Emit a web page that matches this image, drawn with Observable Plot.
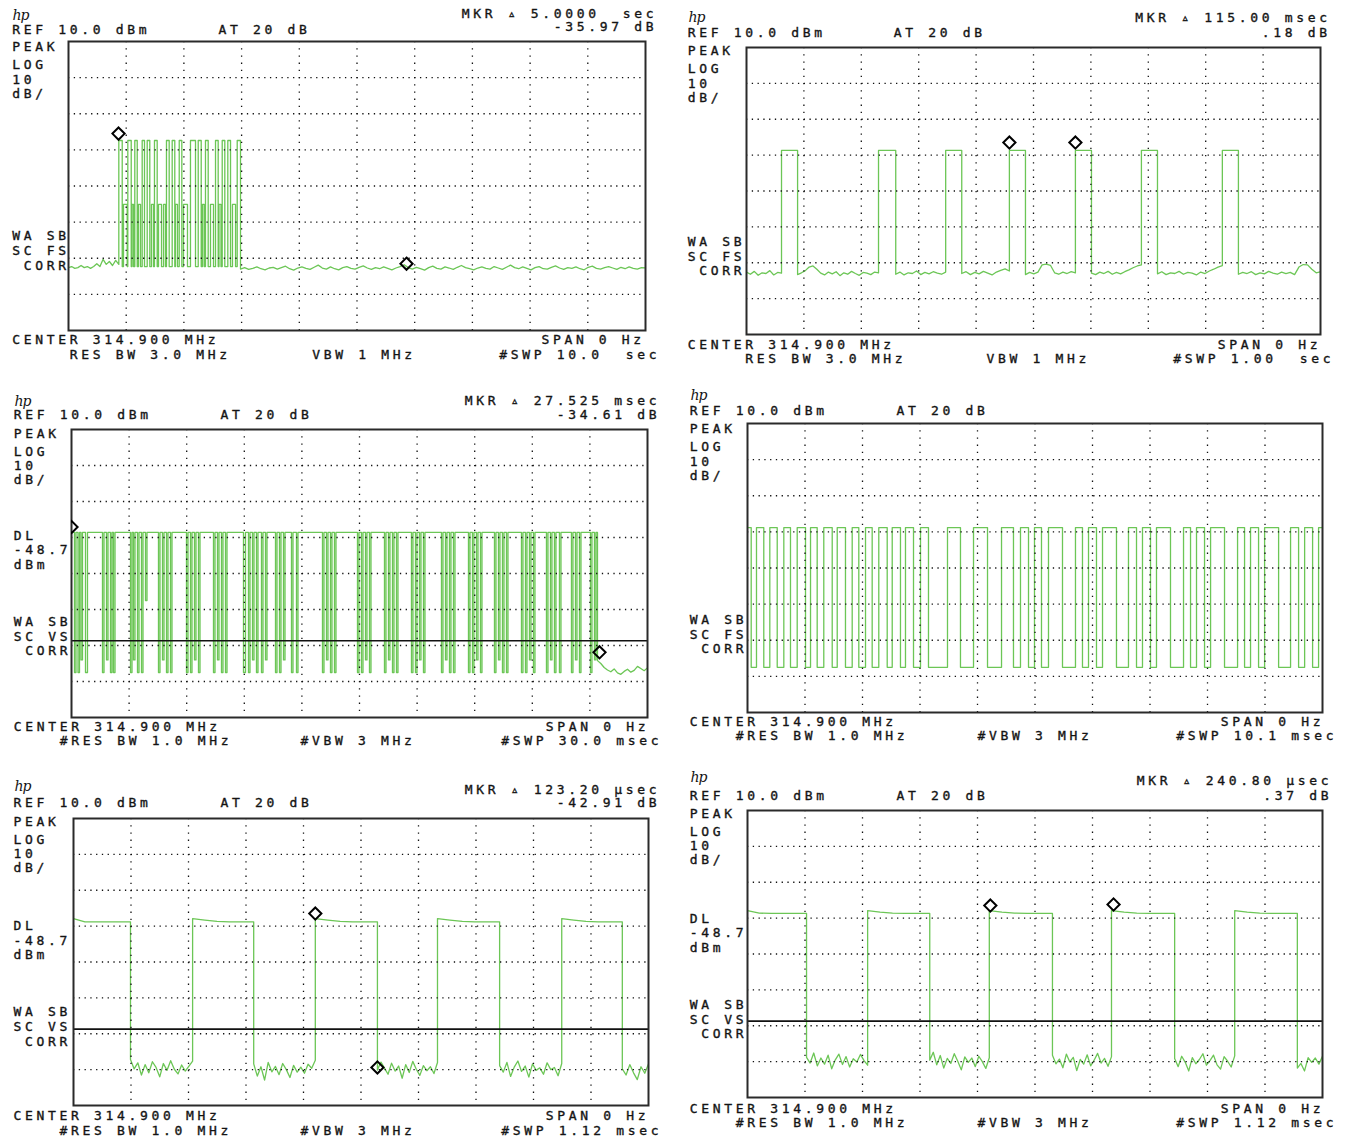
<!DOCTYPE html>
<html><head><meta charset="utf-8">
<script src="https://cdn.jsdelivr.net/npm/d3@7"></script>
<script src="https://cdn.jsdelivr.net/npm/@observablehq/plot@0.6"></script>
<style>
html,body{margin:0;padding:0;background:#fff;}
#root{position:relative;width:1346px;height:1139px;overflow:hidden;background:#fff;}
#root svg{position:absolute;overflow:visible;background:transparent;}
</style></head><body><div id="root"></div>
<script>
// ================= DATA =================
// Panel 1 : 10 s sweep
const p1High = -17.4, p1Mid = -35.1, p1Low = -52.3;
const p1Pre = [-52.6,-52.3,-52.8,-52.6,-52.0,-52.6,-52.3,-52.8,-52.3,-51.5,-52.3,-50.3,-51.7,-50.9,-52.0,-50.6,-51.7];
const p1Spikes = [[0.872,0.931],[1.028,1.087],[1.149,1.191],[1.277,1.317],[1.364,1.409],[1.490,1.537],[1.698,1.745],[1.797,1.842],[1.919,1.964],[2.114,2.201],[2.248,2.300],[2.374,2.421],[2.548,2.594],[2.664,2.709],[2.761,2.808],[2.924,2.981]];
const p1Steps = [[0.953,1.017],[1.101,1.127],[1.213,1.248],[1.438,1.473],[1.560,1.612],[1.647,1.681],[1.854,1.889],[1.993,2.062],[2.322,2.352],[2.461,2.513],[2.608,2.643],[2.842,2.895]];
const p1Post = [-53.0,-52.6,-53.1,-52.8,-52.4,-52.9,-53.2,-52.7,-52.5,-53.0,
 -52.6,-52.2,-52.9,-53.3,-52.7,-52.4,-52.8,-53.1,-52.5,-51.9,
 -52.7,-53.0,-52.4,-52.9,-53.2,-52.6,-52.3,-52.8,-53.0,-52.5,
 -52.1,-52.7,-53.1,-52.6,-52.9,-52.4,-52.8,-53.2,-52.7,-52.3,
 -51.8,-52.6,-53.0,-52.5,-52.9,-53.3,-52.6,-52.2,-52.8,-53.0,
 -52.4,-52.7,-53.1,-52.5,-52.0,-52.6,-52.9,-53.2,-52.7,-52.4,
 -52.8,-53.0,-52.3,-52.7,-53.1,-52.5,-51.9,-52.6,-52.9,-52.4,
 -52.8,-53.2,-52.6,-52.3,-52.9,-53.0,-52.5,-52.1,-52.7,-53.1,
 -52.6,-52.8,-52.4,-52.9,-53.2,-52.5,-52.2,-52.8,-53.0,-52.6,
 -52.3,-52.7,-53.1,-52.5,-52.9,-52.4,-52.8,-53.0,-52.6,-52.7];
const p1Markers = [{t:0.867,v:-15.5},{t:5.858,v:-51.5}];

// Panel 2 : 1 s sweep
const p2High = -18.7;
const p2Pulses = [[0.061,0.089],[0.230,0.260],[0.347,0.375],[0.458,0.486],[0.573,0.601],[0.688,0.716],[0.829,0.857]];
const p2Noise = [
 [-52.6,-53.2,-52.4,-53.5,-52.8,-53.0,-52.2,-53.4,-52.7,-52.9],
 [-53.3,-52.8,-52.2,-51.2,-50.9,-51.8,-52.9,-53.4,-52.6,-53.1,-52.5,-53.6,-52.8,-53.2,-52.4,-53.0,-53.5,-52.7,-52.9,-53.3,-52.6,-52.8],
 [-53.2,-52.6,-53.4,-52.8,-53.0,-52.3,-53.3,-52.7,-53.1,-52.5,-52.9,-53.2,-52.6],
 [-53.0,-52.5,-53.3,-52.7,-53.1,-52.4,-52.9,-53.4,-52.6,-52.1,-51.7,-52.3],
 [-53.3,-52.7,-53.1,-52.6,-50.6,-50.4,-50.7,-52.8,-53.2,-52.6,-53.0,-52.5,-52.8],
 [-52.9,-53.3,-52.6,-53.0,-52.4,-53.2,-52.7,-53.1,-52.5,-52.0,-51.4,-50.9,-50.6],
 [-53.1,-52.5,-53.3,-52.8,-53.0,-52.4,-53.2,-52.7,-52.9,-53.4,-52.6,-53.0,-52.3,-51.8,-51.2,-50.8],
 [-53.2,-52.7,-53.0,-52.5,-53.3,-52.8,-53.1,-52.4,-52.9,-53.2,-52.6,-53.0,-52.7,-53.3,-51.2,-50.5,-50.6,-51.8,-52.8,-52.5]];
const p2Markers = [{t:0.458,v:-16.5},{t:0.573,v:-16.5}];

// Panel 3 : 30 ms sweep
const p3High = -18.6, p3Low = -57.5, p3Part = -54.0, p3Step = -37.5;
const p3Dips = [
 [0.156,0.234,p3Low],[0.339,0.417,p3Low],[0.495,0.573,p3Part],[0.729,0.833,p3Low],
 [1.614,1.693,p3Low],[1.823,1.901,p3Part],[2.031,2.109,p3Low],[2.187,2.266,p3Low],
 [3.073,3.151,p3Low],[3.229,3.307,p3Part],[3.437,3.516,p3Low],[3.646,3.724,p3Low],[3.854,3.932,p3Step],
 [4.531,4.609,p3Low],[4.739,4.818,p3Part],[4.948,5.026,p3Low],[5.156,5.234,p3Low],
 [5.989,6.068,p3Low],[6.198,6.276,p3Low],[6.406,6.484,p3Part],[6.614,6.693,p3Low],
 [7.395,7.474,p3Low],[7.604,7.682,p3Part],[7.812,7.890,p3Low],[8.020,8.099,p3Low],
 [8.958,9.062,p3Low],[9.218,9.297,p3Low],[9.427,9.505,p3Part],[9.635,9.713,p3Low],[9.895,9.974,p3Low],[10.104,10.182,p3Part],
 [10.625,10.703,p3Low],[10.833,10.911,p3Low],[11.041,11.120,p3Part],[11.458,11.536,p3Low],[11.718,11.796,p3Low],
 [13.072,13.150,p3Low],[13.280,13.359,p3Part],[13.489,13.567,p3Low],[13.697,13.775,p3Low],
 [14.895,14.973,p3Low],[15.103,15.182,p3Low],[15.312,15.390,p3Part],[15.520,15.598,p3Low],
 [16.301,16.379,p3Low],[16.509,16.587,p3Part],[16.718,16.796,p3Low],[16.926,17.004,p3Low],
 [17.707,17.785,p3Low],[17.915,17.994,p3Low],[18.124,18.202,p3Part],[18.332,18.410,p3Low],
 [19.270,19.348,p3Low],[19.478,19.556,p3Part],[19.686,19.764,p3Low],[19.894,19.973,p3Low],
 [20.676,20.754,p3Low],[20.884,20.962,p3Low],[21.092,21.171,p3Part],[21.301,21.379,p3Low],
 [22.030,22.108,p3Low],[22.238,22.316,p3Part],[22.446,22.525,p3Low],[22.655,22.733,p3Low],
 [23.436,23.514,p3Low],[23.644,23.722,p3Low],[23.852,23.931,p3Part],[24.061,24.139,p3Low],
 [24.738,24.816,p3Low],[24.946,25.024,p3Part],[25.154,25.232,p3Low],[25.414,25.493,p3Low],
 [26.040,26.118,p3Low],[26.248,26.327,p3Part],[26.457,26.535,p3Low],
 [27.030,27.108,p3Low],[27.238,27.316,p3Part]];
const p3TailStart = 27.395;
const p3Tail = [-54.2,-55.0,-56.1,-56.8,-57.3,-56.5,-57.6,-58.0,-57.2,-56.6,-57.4,-56.9,-55.8,-56.4,-57.0,-56.2];
const p3Markers = [{t:0.0,v:-17.1},{t:27.5,v:-51.9}];

// Panel 4 : 10.1 ms sweep
const p4High = -18.8, p4Low = -57.5;
const p4Highs = [[0,0.065],[0.158,0.286],[0.392,0.522],[0.638,0.755],[0.873,1.019],[1.107,1.224],[1.340,1.488],[1.576,1.721],[1.839,1.955],[2.073,2.190],[2.306,2.454],[2.542,2.687],[2.775,2.916],[3.039,3.179],[3.513,3.741],[3.970,4.216],[4.462,4.672],[4.795,4.936],[5.041,5.164],[5.287,5.533],[5.761,5.884],[5.990,6.130],[6.236,6.481],[6.692,6.833],[6.938,7.079],[7.184,7.430],[7.659,7.782],[7.887,8.028],[8.134,8.379],[8.608,8.731],[8.836,8.977],[9.083,9.329],[9.539,9.680],[9.786,9.926],[10.031,10.1]];

// Panel 5 : 1.12 ms sweep (times in µs)
const p5Edges = [111,232,351,471,592,709,830,951,1069];
const p5Highs = [
 [-17.9,-18.8,-18.8,-18.8,-18.8,-18.8],
 [-17.9,-18.3,-18.7,-18.8,-18.8,-18.8],
 [-17.9,-18.3,-18.7,-18.8,-18.8,-18.8],
 [-17.9,-18.3,-18.7,-18.8,-18.8,-18.8],
 [-17.9,-18.3,-18.7,-18.8,-18.8,-18.8]];
const p5Noise = [
 [-57.2,-59.8,-58.1,-61.5,-58.6,-60.9,-57.8,-59.4,-62.0,-58.3,-60.2,-57.5,-59.9,-61.2,-58.7,-60.4,-59.0,-57.6],
 [-58.4,-61.8,-59.2,-62.9,-58.0,-60.6,-59.1,-61.4,-58.3,-60.0,-62.2,-58.8,-60.7,-59.3,-61.0,-58.5,-59.6,-57.4],
 [-60.1,-57.9,-59.6,-61.3,-58.2,-60.4,-59.0,-62.4,-58.6,-60.8,-57.7,-59.9,-61.6,-58.9,-60.3,-59.2,-61.1,-58.0],
 [-58.9,-60.7,-58.0,-61.9,-59.3,-57.6,-60.5,-59.0,-62.1,-58.4,-60.2,-59.5,-61.3,-58.1,-60.0,-59.4,-61.7,-58.3],
 [-59.8,-61.5,-58.6,-60.9,-62.8,-59.2,-61.0,-58.4]];
const p5Markers = [{t:471,v:-16.5},{t:592,v:-59.4}];

// Panel 6 : 1.12 ms sweep (times in µs)
const p6Edges = [115,234,355,471,594,709,832,949,1071];
const p6Highs = [
 [-17.9,-18.6,-18.7,-18.7,-18.7,-18.7],
 [-17.9,-18.3,-18.6,-18.7,-18.7,-18.7],
 [-17.9,-18.3,-18.6,-18.7,-18.7,-18.7],
 [-17.9,-18.3,-18.6,-18.7,-18.7,-18.7],
 [-17.9,-18.3,-18.6,-18.7,-18.7,-18.7]];
const p6Noise = [
 [-58.8,-60.4,-57.6,-61.2,-59.0,-60.7,-58.2,-62.0,-59.5,-57.9,-60.8,-58.6,-61.5,-59.2,-60.1,-58.0,-59.7,-61.0],
 [-59.6,-57.4,-60.9,-58.3,-61.8,-59.1,-60.5,-57.8,-59.9,-62.3,-58.7,-60.2,-59.0,-61.4,-58.5,-60.0,-61.9,-58.9],
 [-58.2,-60.6,-59.3,-61.7,-57.9,-60.1,-58.8,-62.5,-59.4,-60.7,-58.1,-61.2,-59.6,-57.7,-60.4,-59.1,-61.3,-58.6],
 [-59.1,-61.4,-58.5,-60.2,-62.6,-58.9,-60.6,-59.4,-57.8,-61.0,-59.7,-58.2,-60.9,-62.1,-58.6,-59.9,-61.5,-58.4],
 [-61.8,-60.5,-62.6,-58.9,-60.2,-59.0,-60.7,-58.5]];
const p6Markers = [{t:473,v:-16.5},{t:713,v:-16.2}];

const displayLine = -48.7;

// Annotation texts
const p1Text = {ref:"REF 10.0 dBm", at:"AT 20 dB", mkr:"MKR ▵ 5.0000  sec", mkrVal:"-35.97 dB", scale:["PEAK","LOG","10","dB/"], dl:null, mode:["WA SB","SC FS"," CORR"], center:"CENTER 314.900 MHz", rbw:"     RES BW 3.0 MHz", vbw:"VBW 1 MHz", span:"SPAN 0 Hz", swp:"#SWP 10.0  sec"};
const p2Text = {ref:"REF 10.0 dBm", at:"AT 20 dB", mkr:"MKR ▵ 115.00 msec", mkrVal:".18 dB", scale:["PEAK","LOG","10","dB/"], dl:null, mode:["WA SB","SC FS"," CORR"], center:"CENTER 314.900 MHz", rbw:"     RES BW 3.0 MHz", vbw:"VBW 1 MHz", span:"SPAN 0 Hz", swp:"#SWP 1.00  sec"};
const p3Text = {ref:"REF 10.0 dBm", at:"AT 20 dB", mkr:"MKR ▵ 27.525 msec", mkrVal:"-34.61 dB", scale:["PEAK","LOG","10","dB/"], dl:["DL","-48.7","dBm"], mode:["WA SB","SC VS"," CORR"], center:"CENTER 314.900 MHz", rbw:"    #RES BW 1.0 MHz", vbw:"#VBW 3 MHz", span:"SPAN 0 Hz", swp:"#SWP 30.0 msec"};
const p4Text = {ref:"REF 10.0 dBm", at:"AT 20 dB", mkr:null, mkrVal:null, scale:["PEAK","LOG","10","dB/"], dl:null, mode:["WA SB","SC FS"," CORR"], center:"CENTER 314.900 MHz", rbw:"    #RES BW 1.0 MHz", vbw:"#VBW 3 MHz", span:"SPAN 0 Hz", swp:"#SWP 10.1 msec"};
const p5Text = {ref:"REF 10.0 dBm", at:"AT 20 dB", mkr:"MKR ▵ 123.20 μsec", mkrVal:"-42.91 dB", scale:["PEAK","LOG","10","dB/"], dl:["DL","-48.7","dBm"], mode:["WA SB","SC VS"," CORR"], center:"CENTER 314.900 MHz", rbw:"    #RES BW 1.0 MHz", vbw:"#VBW 3 MHz", span:"SPAN 0 Hz", swp:"#SWP 1.12 msec"};
const p6Text = {ref:"REF 10.0 dBm", at:"AT 20 dB", mkr:"MKR ▵ 240.80 μsec", mkrVal:".37 dB", scale:["PEAK","LOG","10","dB/"], dl:["DL","-48.7","dBm"], mode:["WA SB","SC VS"," CORR"], center:"CENTER 314.900 MHz", rbw:"    #RES BW 1.0 MHz", vbw:"#VBW 3 MHz", span:"SPAN 0 Hz", swp:"#SWP 1.12 msec"};

// ================= BUILD =================
function fill(T, base, segs){
  segs = segs.slice().sort((a,b)=>a[0]-b[0]);
  const pts=[]; let cur=0;
  const push=(a,b,v)=>{const vals=Array.isArray(v)?v:[v,v]; const n=vals.length; vals.forEach((y,i)=>pts.push({t:a+(b-a)*i/(n-1), v:y}));};
  for (const [a,b,v] of segs){ if (a>cur) push(cur,a,base); push(a,b,v); cur=b; }
  if (cur<T) push(cur,T,base);
  return pts;
}
function alternating(T, edges, first, second){
  const b=[0,...edges,T]; const segs=[];
  for (let k=0;k<b.length-1;k++) segs.push([b[k],b[k+1], k%2===0 ? first[k/2] : second[(k-1)/2]]);
  return fill(T, 0, segs);
}
const trace1 = fill(10, p1Low, [[0,0.872,p1Pre], ...p1Spikes.map(([a,b])=>[a,b,p1High]), ...p1Steps.map(([a,b])=>[a,b,p1Mid]), [2.981,10,p1Post]]);
const trace2 = alternating(1, p2Pulses.flat(), p2Noise, p2Pulses.map(()=>p2High));
const trace3 = fill(30, p3High, [...p3Dips, [p3TailStart, 30, p3Tail]]);
const trace4 = fill(10.1, p4Low, p4Highs.map(([a,b])=>[a,b,p4High]));
const trace5 = alternating(1120, p5Edges, p5Highs, p5Noise);
const trace6 = alternating(1120, p6Edges, p6Highs, p6Noise);

// ================= DRAW =================
const GREEN = "#6cc656";
const FS = 13, LS = 3.67;
const root = document.getElementById("root");

function drawPanel(o){
  const {box, frame, T, trace, markers, dl, text, lay} = o;
  const mL=frame.x0-box.left, mT=frame.y0-box.top, mR=box.left+box.width-frame.x1, mB=box.top+box.height-frame.y1;
  const xTicks=d3.range(1,10).map(i=>T*i/10);
  const yTicks=d3.range(1,8).map(i=>10-10*i);
  const marks=[
    Plot.line(trace,{x:"t",y:"v",stroke:GREEN,strokeWidth:1.3,clip:true}),
    Plot.ruleX(xTicks,{stroke:"#111",strokeWidth:1.3,strokeDasharray:"1.3,5.9"}),
    Plot.ruleY(yTicks,{stroke:"#111",strokeWidth:1.3,strokeDasharray:"1.3,4.47"})
  ];
  if (dl!=null) marks.push(Plot.ruleY([dl],{stroke:"#111",strokeWidth:1.6}));
  marks.push(Plot.frame({stroke:"#2a2a2a",strokeWidth:2}));
  if (markers) marks.push(Plot.dot(markers,{x:"t",y:"v",symbol:"diamond2",r:5.5,stroke:"#000",strokeWidth:2,fill:"none",clip:true}));
  const L=[];
  const add=(s,x,y,anchor="start",logo=false)=>{ if(s) L.push({s,x,y,anchor,logo}); };
  add("hp", lay.hpX, lay.hpY, "start", true);
  add(text.ref, lay.lx, lay.refY);
  add(text.at, lay.atx, lay.refY);
  add(text.mkr, lay.mkrR, lay.mkr1Y, "end");
  add(text.mkrVal, lay.mkrR, lay.mkr2Y, "end");
  const sOff=[0,18,32.5,46.5];
  text.scale.forEach((s,i)=>add(s, lay.lx, lay.peakY+sOff[i]));
  if (text.dl) { const dOff=[-86,-71.5,-57]; text.dl.forEach((s,i)=>add(s, lay.lx, lay.waY+dOff[i])); }
  const mOff=[0,15,29.5];
  text.mode.forEach((s,i)=>add(s, lay.lx, lay.waY+mOff[i]));
  add(text.center, lay.lx, lay.cenY);
  add(text.rbw, lay.lx, lay.cenY+14.5);
  add(text.vbw, lay.vbwX, lay.cenY+14.5);
  add(text.span, lay.spanR, lay.cenY, "end");
  add(text.swp, lay.swpR, lay.cenY+14.5, "end");
  for (const it of L){
    marks.push(Plot.text([it.s],{text:d=>d, frameAnchor:"top-left",
      dx: it.x-frame.x0 + (it.anchor==="end"?LS:0), dy: it.y-frame.y0,
      textAnchor: it.anchor, lineAnchor:"middle", fontSize: it.logo?14:FS, fill:"#141414"}));
  }
  const svg = Plot.plot({width:box.width, height:box.height, marginLeft:mL, marginRight:mR, marginTop:mT, marginBottom:mB,
    x:{domain:[0,T], axis:null}, y:{domain:[-70,10], axis:null}, marks,
    style:{background:"transparent", overflow:"visible"}});
  svg.style.left=box.left+"px"; svg.style.top=box.top+"px";
  d3.select(svg).selectAll("text").each(function(){
    const t=d3.select(this);
    if (this.textContent==="hp") t.style("font-family","'DejaVu Serif',serif").style("font-style","italic").style("letter-spacing","-1px");
    else t.style("font-family","'DejaVu Sans Mono',monospace").style("letter-spacing",LS+"px").style("white-space","pre")
          .style("stroke","#141414").style("stroke-width","0.35px").attr("xml:space","preserve");
  });
  root.append(svg);
}

drawPanel({box:{left:0,top:0,width:673,height:372}, frame:{x0:68,y0:41,x1:645,y1:330}, T:10, trace:trace1, markers:p1Markers, dl:null, text:p1Text,
  lay:{lx:11.7, atx:218, mkrR:653, hpX:12, hpY:15, mkr1Y:13.5, refY:29.5, mkr2Y:26.5, peakY:46.7, waY:235.5, cenY:339.5, vbwX:311.7, spanR:640.7, swpR:656}});
drawPanel({box:{left:673,top:0,width:673,height:372}, frame:{x0:746,y0:47,x1:1320,y1:334}, T:1, trace:trace2, markers:p2Markers, dl:null, text:p2Text,
  lay:{lx:687.3, atx:893.3, mkrR:1326.5, hpX:688, hpY:17, mkr1Y:17, refY:32, mkr2Y:32, peakY:50.5, waY:241, cenY:344, vbwX:986, spanR:1317, swpR:1330}});
drawPanel({box:{left:0,top:380,width:673,height:380}, frame:{x0:71,y0:429,x1:647,y1:717}, T:30, trace:trace3, markers:p3Markers, dl:displayLine, text:p3Text,
  lay:{lx:13.3, atx:220, mkrR:656, hpX:14, hpY:401, mkr1Y:400, refY:414.5, mkr2Y:414, peakY:433.3, waY:621.2, cenY:726, vbwX:300, spanR:645, swpR:658}});
drawPanel({box:{left:673,top:380,width:673,height:380}, frame:{x0:747,y0:423,x1:1322,y1:712}, T:10.1, trace:trace4, markers:null, dl:null, text:p4Text,
  lay:{lx:689.3, atx:896, mkrR:1328, hpX:690, hpY:395, mkr1Y:395, refY:410, mkr2Y:410, peakY:428.5, waY:619.2, cenY:721, vbwX:977, spanR:1320, swpR:1333}});
drawPanel({box:{left:0,top:765,width:673,height:374}, frame:{x0:73,y0:818,x1:648,y1:1105}, T:1120, trace:trace5, markers:p5Markers, dl:displayLine, text:p5Text,
  lay:{lx:13, atx:220, mkrR:656, hpX:14, hpY:786, mkr1Y:789.5, refY:802.5, mkr2Y:802.5, peakY:821, waY:1011.5, cenY:1115.5, vbwX:300, spanR:645, swpR:658}});
drawPanel({box:{left:673,top:765,width:673,height:374}, frame:{x0:747,y0:810,x1:1322,y1:1097}, T:1120, trace:trace6, markers:p6Markers, dl:displayLine, text:p6Text,
  lay:{lx:689.3, atx:896, mkrR:1328, hpX:690, hpY:777, mkr1Y:780.5, refY:795, mkr2Y:795, peakY:813, waY:1004.2, cenY:1108.3, vbwX:977, spanR:1320, swpR:1333}});
</script></body></html>
